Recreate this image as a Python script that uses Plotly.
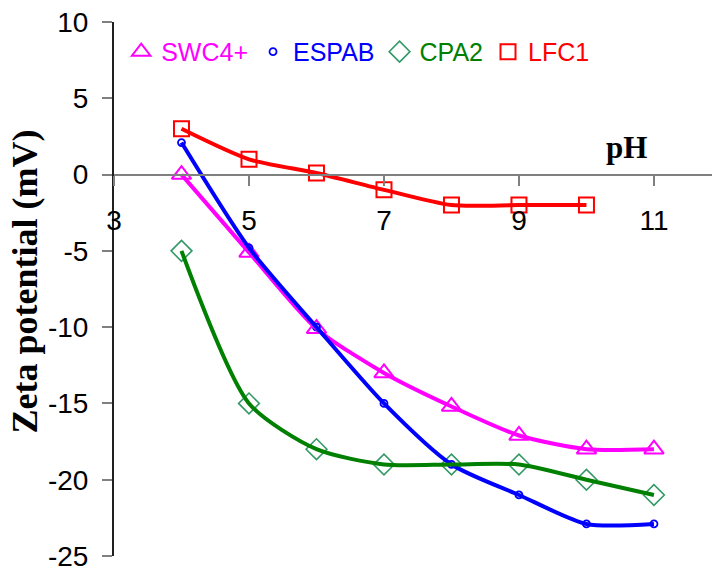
import plotly.graph_objects as go

ph = [4, 5, 6, 7, 8, 9, 10, 11]
swc4 = [0, -5.1, -10.1, -13, -15.2, -17.1, -18, -18]
espab = [2.1, -4.8, -10, -15, -19, -21, -22.9, -22.9]
cpa2 = [-5, -15, -18, -19, -19, -19, -20, -21]
ph_lfc = [4, 5, 6, 7, 8, 9, 10]
lfc1 = [3, 1, 0.1, -1, -2, -2, -2]

series = [
    ("SWC4+", ph, swc4, "#FF00FF", "#FF00FF", "triangle-up-open", 17, 2),
    ("ESPAB", ph, espab, "#0000FF", "#0000FF", "circle-open", 7, 1.8),
    ("CPA2", ph, cpa2, "#008000", "#339966", "diamond-open", 16, 1.6),
    ("LFC1", ph_lfc, lfc1, "#FF0000", "#FF0000", "square-open", 15, 2),
]

SANS = "Liberation Sans, Arial, sans-serif"
SERIF = "Liberation Serif, Times New Roman, serif"

fig = go.Figure()
for name, xs, ys, lc, mc, sym, size, mw in series:
    fig.add_trace(go.Scatter(
        x=xs, y=ys, mode="markers",
        name=f'<span style="color:{lc}">{name}</span>',
        marker=dict(symbol=sym, size=size, color=mc, line=dict(color=mc, width=mw)),
        showlegend=True,
    ))
for name, xs, ys, lc, mc, sym, size, mw in series:
    fig.add_trace(go.Scatter(
        x=xs, y=ys, mode="lines", showlegend=False,
        line=dict(color=lc, width=4, shape="spline", smoothing=0.7),
        hoverinfo="skip",
    ))

ymin, ymax = -25, 10
fig.update_layout(
    width=712, height=572,
    margin=dict(l=114, r=0, t=22, b=13),
    paper_bgcolor="white", plot_bgcolor="white",
    showlegend=True,
    legend=dict(
        orientation="h", x=0.012, y=0.944, xanchor="left", yanchor="middle",
        font=dict(family=SANS, size=25, color="black"),
        bgcolor="rgba(0,0,0,0)", itemwidth=30,
    ),
    xaxis=dict(
        range=[3, 11.86], tickvals=[3, 5, 7, 9, 11], ticktext=["3", "5", "7", "9", "11"],
        anchor="free", position=(0 - ymin) / (ymax - ymin),
        showline=True, linecolor="#808080", linewidth=2,
        ticks="outside", ticklen=10, tickcolor="#808080", tickwidth=2,
        ticklabelstandoff=11,
        tickfont=dict(family=SANS, size=28, color="black"),
        showgrid=False, zeroline=False,
    ),
    yaxis=dict(
        range=[ymin, ymax], tickvals=[10, 5, 0, -5, -10, -15, -20, -25],
        ticktext=["10", "5", "0", "-5", "-10", "-15", "-20", "-25"],
        showline=True, linecolor="#202020", linewidth=2,
        ticks="outside", ticklen=10, tickcolor="#808080", tickwidth=2,
        ticklabelstandoff=8, ticklabeloverflow="allow",
        tickfont=dict(family=SANS, size=28, color="black"),
        showgrid=False, zeroline=False,
    ),
    annotations=[
        dict(text="<b>Zeta potential (mV)</b>", xref="paper", yref="paper",
             x=-0.149, y=0.514, xanchor="center", yanchor="middle", textangle=-90,
             showarrow=False, font=dict(family=SERIF, size=36, color="black")),
        dict(text="<b>pH</b>", xref="x", yref="y", x=10.6, y=1.8,
             xanchor="center", yanchor="middle", showarrow=False,
             font=dict(family=SERIF, size=31, color="black")),
    ],
)

fig.write_html("out.html")
